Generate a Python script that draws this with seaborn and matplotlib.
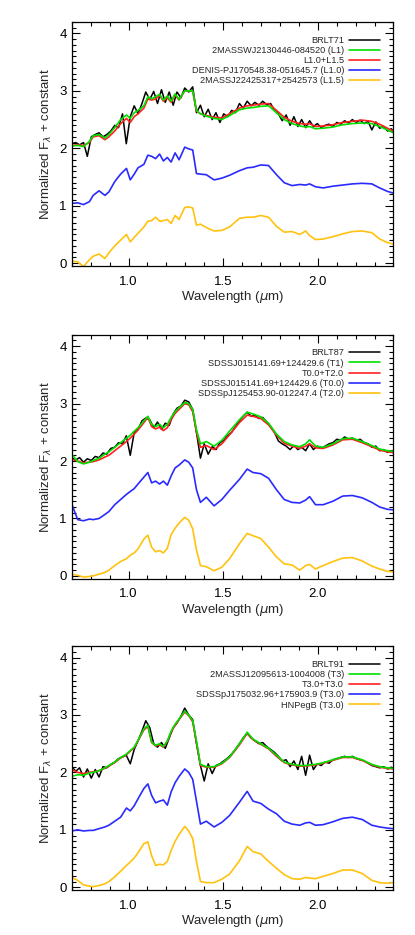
import numpy as np
import matplotlib
matplotlib.use("Agg")
import matplotlib.pyplot as plt
import seaborn as sns
from matplotlib.ticker import MultipleLocator

# --- Datos ---

# rejilla de longitudes de onda para los espectros suaves (um)
wave = [0.700, 0.731, 0.762, 0.793, 0.813, 0.844, 0.875, 0.896, 0.927, 0.958,
        0.989, 1.009, 1.030, 1.050, 1.081, 1.102, 1.122, 1.143, 1.164, 1.184,
        1.205, 1.225, 1.246, 1.267, 1.297, 1.318, 1.339, 1.359, 1.380, 1.411,
        1.452, 1.493, 1.534, 1.586, 1.627, 1.658, 1.699, 1.740, 1.782, 1.823,
        1.864, 1.905, 1.936, 1.957, 1.988, 2.029, 2.080, 2.132, 2.183, 2.235,
        2.286, 2.327, 2.368, 2.399]

# rejilla para los espectros observados (ruidosos)
black_wave = [0.700, 0.721, 0.741, 0.762, 0.782, 0.803, 0.824, 0.844, 0.865, 0.885,
              0.906, 0.927, 0.947, 0.968, 0.988, 1.009, 1.030, 1.050, 1.071, 1.091,
              1.112, 1.133, 1.153, 1.174, 1.194, 1.215, 1.236, 1.256, 1.277, 1.297,
              1.318, 1.339, 1.359, 1.380, 1.400, 1.421, 1.442, 1.462, 1.483, 1.503,
              1.524, 1.545, 1.565, 1.586, 1.606, 1.627, 1.648, 1.668, 1.689, 1.709,
              1.730, 1.751, 1.771, 1.792, 1.812, 1.833, 1.854, 1.874, 1.895, 1.915,
              1.936, 1.957, 1.977, 1.998, 2.018, 2.039, 2.060, 2.080, 2.101, 2.121,
              2.142, 2.163, 2.183, 2.204, 2.224, 2.245, 2.266, 2.286, 2.307, 2.327,
              2.348, 2.369, 2.389, 2.399]

# Panel 1: BRLT71
p1_labels = ["BRLT71", "2MASSWJ2130446-084520 (L1)", "L1.0+L1.5",
             "DENIS-PJ170548.38-051645.7 (L1.0)", "2MASSJ22425317+2542573 (L1.5)"]
p1_black = [2.08, 2.10, 2.06, 2.10, 1.86, 2.20, 2.24, 2.27, 2.20, 2.24,
            2.30, 2.40, 2.36, 2.60, 2.08, 2.55, 2.74, 2.60, 2.78, 2.98,
            2.85, 2.99, 2.78, 3.02, 2.80, 2.98, 2.75, 2.98, 2.88, 3.05,
            2.98, 3.07, 2.62, 2.75, 2.55, 2.68, 2.50, 2.62, 2.45, 2.60,
            2.55, 2.66, 2.62, 2.78, 2.70, 2.82, 2.74, 2.80, 2.75, 2.82,
            2.76, 2.78, 2.66, 2.60, 2.48, 2.58, 2.40, 2.55, 2.38, 2.50,
            2.36, 2.48, 2.38, 2.43, 2.36, 2.40, 2.42, 2.38, 2.45, 2.42,
            2.48, 2.44, 2.50, 2.45, 2.49, 2.43, 2.47, 2.32, 2.46, 2.35,
            2.38, 2.30, 2.34, 2.30]
p1_green = [2.04, 2.05, 2.03, 2.12, 2.22, 2.24, 2.18, 2.24, 2.36, 2.50,
            2.58, 2.52, 2.62, 2.66, 2.74, 2.90, 2.86, 2.90, 2.94, 2.84,
            2.91, 2.82, 2.95, 2.85, 3.00, 3.00, 3.00, 2.66, 2.60, 2.56,
            2.52, 2.50, 2.57, 2.67, 2.70, 2.71, 2.73, 2.74, 2.62, 2.50,
            2.43, 2.39, 2.37, 2.38, 2.34, 2.35, 2.37, 2.41, 2.43, 2.44,
            2.43, 2.38, 2.32, 2.27]
p1_red = [2.05, 2.06, 2.05, 2.10, 2.20, 2.22, 2.15, 2.20, 2.30, 2.43,
          2.52, 2.45, 2.55, 2.60, 2.70, 2.86, 2.84, 2.86, 2.92, 2.82,
          2.88, 2.80, 2.93, 2.84, 3.00, 3.00, 2.99, 2.65, 2.60, 2.57,
          2.54, 2.53, 2.60, 2.70, 2.74, 2.75, 2.77, 2.78, 2.66, 2.54,
          2.47, 2.43, 2.42, 2.43, 2.38, 2.39, 2.41, 2.45, 2.47, 2.49,
          2.47, 2.42, 2.35, 2.30]
p1_blue = [1.04, 1.05, 1.02, 1.07, 1.18, 1.26, 1.18, 1.24, 1.42, 1.55,
           1.65, 1.45, 1.55, 1.66, 1.72, 1.88, 1.86, 1.82, 1.90, 1.78,
           1.84, 1.76, 1.92, 1.80, 2.02, 1.99, 1.97, 1.56, 1.55, 1.54,
           1.45, 1.48, 1.53, 1.61, 1.66, 1.67, 1.71, 1.70, 1.54, 1.40,
           1.35, 1.37, 1.36, 1.38, 1.33, 1.31, 1.34, 1.36, 1.38, 1.39,
           1.38, 1.31, 1.25, 1.22]
p1_yellow = [0.04, 0.02, -0.06, 0.06, 0.12, 0.16, 0.08, 0.18, 0.30, 0.40,
             0.50, 0.37, 0.45, 0.52, 0.63, 0.73, 0.74, 0.80, 0.73, 0.74,
             0.76, 0.69, 0.83, 0.76, 0.97, 0.98, 0.96, 0.66, 0.68, 0.62,
             0.56, 0.57, 0.63, 0.78, 0.80, 0.80, 0.83, 0.80, 0.64, 0.54,
             0.55, 0.50, 0.56, 0.48, 0.41, 0.42, 0.46, 0.51, 0.55, 0.56,
             0.53, 0.42, 0.36, 0.33]

# Panel 2: BRLT87
p2_labels = ["BRLT87", "SDSSJ015141.69+124429.6 (T1)", "T0.0+T2.0",
             "SDSSJ015141.69+124429.6 (T0.0)", "SDSSpJ125453.90-012247.4 (T2.0)"]
p2_black = [2.05, 2.02, 2.06, 1.98, 2.04, 2.01, 2.08, 2.06, 2.14, 2.12,
            2.22, 2.24, 2.32, 2.30, 2.44, 2.10, 2.50, 2.55, 2.70, 2.75,
            2.72, 2.58, 2.68, 2.55, 2.66, 2.62, 2.82, 2.92, 2.96, 3.06,
            3.03, 2.90, 2.50, 2.05, 2.30, 2.12, 2.25, 2.20, 2.32, 2.36,
            2.44, 2.50, 2.60, 2.70, 2.78, 2.85, 2.78, 2.80, 2.74, 2.76,
            2.68, 2.60, 2.50, 2.35, 2.30, 2.26, 2.20, 2.27, 2.20, 2.24,
            2.18, 2.30, 2.20, 2.26, 2.22, 2.26, 2.30, 2.32, 2.38, 2.36,
            2.42, 2.38, 2.40, 2.36, 2.38, 2.32, 2.30, 2.24, 2.26, 2.18,
            2.20, 2.15, 2.18, 2.14]
p2_green = [2.12, 1.99, 1.95, 1.98, 2.01, 2.05, 2.12, 2.16, 2.24, 2.32,
            2.40, 2.45, 2.52, 2.58, 2.70, 2.78, 2.64, 2.60, 2.64, 2.58,
            2.64, 2.76, 2.86, 2.93, 3.02, 3.00, 2.90, 2.55, 2.30, 2.34,
            2.26, 2.36, 2.52, 2.72, 2.85, 2.82, 2.77, 2.66, 2.47, 2.34,
            2.28, 2.25, 2.30, 2.37, 2.26, 2.24, 2.30, 2.39, 2.40, 2.34,
            2.27, 2.21, 2.18, 2.17]
p2_red = [2.03, 2.00, 1.97, 1.98, 1.99, 2.02, 2.07, 2.10, 2.18, 2.26,
          2.34, 2.40, 2.47, 2.54, 2.67, 2.76, 2.60, 2.56, 2.59, 2.53,
          2.58, 2.72, 2.83, 2.90, 3.00, 2.98, 2.86, 2.50, 2.24, 2.27,
          2.20, 2.30, 2.46, 2.67, 2.80, 2.78, 2.74, 2.63, 2.45, 2.31,
          2.26, 2.22, 2.26, 2.30, 2.23, 2.22, 2.28, 2.37, 2.38, 2.32,
          2.25, 2.19, 2.16, 2.15]
p2_blue = [1.25, 0.98, 0.96, 0.99, 0.98, 1.00, 1.07, 1.12, 1.24, 1.33,
           1.42, 1.47, 1.52, 1.60, 1.72, 1.80, 1.62, 1.65, 1.60, 1.65,
           1.58, 1.74, 1.88, 1.93, 2.02, 1.98, 1.88, 1.50, 1.28, 1.37,
           1.22, 1.33, 1.49, 1.68, 1.86, 1.80, 1.78, 1.70, 1.50, 1.33,
           1.28, 1.27, 1.32, 1.38, 1.24, 1.24, 1.30, 1.39, 1.40, 1.36,
           1.28, 1.20, 1.16, 1.15]
p2_yellow = [0.03, 0.01, -0.02, -0.01, 0.00, 0.03, 0.06, 0.10, 0.18, 0.25,
             0.30, 0.36, 0.40, 0.47, 0.64, 0.71, 0.50, 0.42, 0.44, 0.40,
             0.48, 0.72, 0.83, 0.92, 1.02, 0.97, 0.82, 0.45, 0.18, 0.16,
             0.09, 0.15, 0.30, 0.56, 0.74, 0.70, 0.65, 0.50, 0.33, 0.21,
             0.19, 0.10, 0.18, 0.20, 0.12, 0.18, 0.25, 0.31, 0.32, 0.26,
             0.17, 0.12, 0.08, 0.07]

# Panel 3: BRLT91
p3_labels = ["BRLT91", "2MASSJ12095613-1004008 (T3)", "T3.0+T3.0",
             "SDSSpJ175032.96+175903.9 (T3.0)", "HNPegB (T3.0)"]
p3_black = [2.10, 2.02, 2.08, 1.92, 2.06, 1.90, 2.05, 1.92, 2.10, 2.08,
            2.14, 2.18, 2.24, 2.27, 2.30, 2.15, 2.40, 2.55, 2.72, 2.90,
            2.78, 2.50, 2.44, 2.52, 2.42, 2.60, 2.78, 2.86, 2.98, 3.12,
            3.00, 2.92, 2.50, 2.12, 1.85, 2.15, 1.98, 2.12, 2.15, 2.20,
            2.25, 2.32, 2.40, 2.50, 2.60, 2.68, 2.60, 2.55, 2.50, 2.52,
            2.45, 2.40, 2.35, 2.28, 2.20, 2.22, 2.10, 2.20, 2.05, 2.28,
            1.95, 2.30, 2.05, 2.15, 2.12, 2.18, 2.16, 2.22, 2.24, 2.26,
            2.28, 2.26, 2.28, 2.24, 2.22, 2.20, 2.16, 2.12, 2.10, 2.08,
            2.10, 2.06, 2.09, 2.07]
p3_green = [1.93, 1.96, 1.95, 1.99, 2.00, 2.03, 2.08, 2.12, 2.18, 2.26,
            2.32, 2.38, 2.44, 2.56, 2.76, 2.82, 2.53, 2.47, 2.50, 2.45,
            2.55, 2.72, 2.84, 2.93, 3.07, 3.00, 2.90, 2.55, 2.14, 2.10,
            2.10, 2.16, 2.27, 2.50, 2.70, 2.58, 2.50, 2.42, 2.30, 2.18,
            2.14, 2.12, 2.12, 2.13, 2.14, 2.17, 2.22, 2.27, 2.27, 2.22,
            2.14, 2.10, 2.08, 2.07]
p3_red = [2.05, 2.00, 1.98, 2.00, 2.01, 2.03, 2.07, 2.11, 2.17, 2.25,
          2.31, 2.37, 2.43, 2.55, 2.74, 2.80, 2.52, 2.46, 2.48, 2.44,
          2.54, 2.70, 2.82, 2.92, 3.05, 2.99, 2.88, 2.52, 2.12, 2.09,
          2.09, 2.15, 2.26, 2.48, 2.68, 2.57, 2.49, 2.41, 2.28, 2.17,
          2.13, 2.11, 2.11, 2.12, 2.13, 2.16, 2.21, 2.26, 2.26, 2.21,
          2.13, 2.09, 2.07, 2.06]
p3_blue = [0.98, 1.00, 0.98, 0.99, 0.99, 1.02, 1.05, 1.08, 1.15, 1.22,
           1.38, 1.33, 1.42, 1.54, 1.72, 1.80, 1.60, 1.47, 1.50, 1.52,
           1.43, 1.66, 1.82, 1.93, 2.06, 2.00, 1.88, 1.50, 1.10, 1.15,
           1.05, 1.13, 1.25, 1.48, 1.67, 1.50, 1.46, 1.36, 1.28, 1.15,
           1.10, 1.08, 1.12, 1.13, 1.08, 1.09, 1.14, 1.20, 1.22, 1.18,
           1.08, 1.05, 1.03, 1.02]
p3_yellow = [0.17, 0.12, 0.04, 0.02, 0.01, 0.03, 0.06, 0.10, 0.18, 0.28,
             0.38, 0.44, 0.51, 0.60, 0.76, 0.79, 0.55, 0.38, 0.40, 0.39,
             0.45, 0.64, 0.80, 0.92, 1.06, 0.98, 0.85, 0.45, 0.10, 0.08,
             0.08, 0.14, 0.23, 0.46, 0.71, 0.62, 0.58, 0.45, 0.33, 0.22,
             0.15, 0.14, 0.17, 0.16, 0.15, 0.19, 0.24, 0.30, 0.30, 0.24,
             0.12, 0.08, 0.07, 0.08]

# colores de las series (obs, mejor ajuste, compuesto, primaria, secundaria)
colores = ["black", "#00e000", "#ff2020", "#2a2aff", "#ffc20e"]

# --- Estilo ---
sns.set_theme(style="ticks")
plt.rcParams["font.family"] = ["Liberation Sans", "DejaVu Sans"]
plt.rcParams["mathtext.fontset"] = "dejavusans"


def dibujar_panel(ax, black, green, red, blue, yellow, labels):
    """Dibuja un panel con el espectro observado y las plantillas."""
    # orden de dibujo: primaria/secundaria abajo, luego observado y ajustes
    sns.lineplot(x=wave, y=yellow, ax=ax, color=colores[4], lw=1.2, label=labels[4],
                 estimator=None, sort=False)
    sns.lineplot(x=wave, y=blue, ax=ax, color=colores[3], lw=1.2, label=labels[3],
                 estimator=None, sort=False)
    sns.lineplot(x=black_wave, y=black, ax=ax, color=colores[0], lw=1.1, label=labels[0],
                 estimator=None, sort=False)
    sns.lineplot(x=wave, y=red, ax=ax, color=colores[2], lw=1.2, label=labels[2],
                 estimator=None, sort=False)
    sns.lineplot(x=wave, y=green, ax=ax, color=colores[1], lw=1.2, label=labels[1],
                 estimator=None, sort=False)

    ax.set_xlim(0.7, 2.4)
    ax.set_ylim(-0.05, 4.2)
    ax.xaxis.set_major_locator(MultipleLocator(0.5))
    ax.xaxis.set_minor_locator(MultipleLocator(0.1))
    ax.yaxis.set_major_locator(MultipleLocator(1))
    ax.yaxis.set_minor_locator(MultipleLocator(0.1))
    ax.set_xticks([1.0, 1.5, 2.0])
    ax.set_xticklabels(["1.0", "1.5", "2.0"])
    ax.set_yticks([0, 1, 2, 3, 4])
    ax.tick_params(which="both", direction="in", top=True, right=True,
                   colors="black", labelsize=9.5, width=0.8)
    ax.tick_params(which="major", length=6)
    ax.tick_params(which="minor", length=3)
    ax.tick_params(axis="x", pad=7)
    for sp in ax.spines.values():
        sp.set_linewidth(0.9)
        sp.set_color("black")

    ax.set_xlabel(r"Wavelength ($\mu$m)", fontsize=9.5, labelpad=1)
    ax.set_ylabel(r"Normalized F$_\lambda$ + constant", fontsize=9.5, labelpad=4)

    # leyenda en el orden original, texto a la izquierda de la linea
    h, l = ax.get_legend_handles_labels()
    orden = [2, 4, 3, 1, 0]
    ax.legend([h[i] for i in orden], [l[i] for i in orden], loc="upper right",
              bbox_to_anchor=(1.0, 1.0), frameon=False, markerfirst=False,
              fontsize=6.6, handlelength=3.3, handletextpad=0.6,
              labelspacing=0.13, borderaxespad=1.1)


fig = plt.figure(figsize=(4.15, 9.35), dpi=100)
ax1 = fig.add_axes([0.173, 0.7155, 0.775, 0.261])
ax2 = fig.add_axes([0.173, 0.381, 0.775, 0.261])
ax3 = fig.add_axes([0.173, 0.048, 0.775, 0.261])

dibujar_panel(ax1, p1_black, p1_green, p1_red, p1_blue, p1_yellow, p1_labels)
dibujar_panel(ax2, p2_black, p2_green, p2_red, p2_blue, p2_yellow, p2_labels)
dibujar_panel(ax3, p3_black, p3_green, p3_red, p3_blue, p3_yellow, p3_labels)

fig.savefig("out.png", dpi=100)
plt.close(fig)
